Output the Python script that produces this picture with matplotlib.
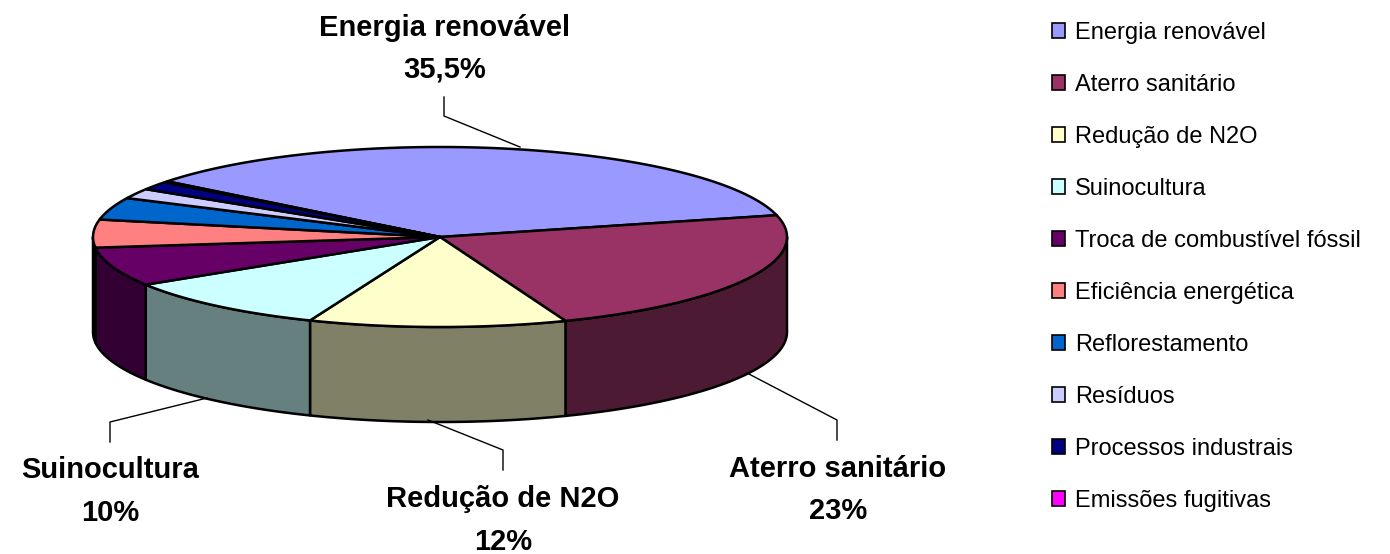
# projetos MDL por tipo de atividade - pizza 3D no estilo do Excel

import numpy as np
import matplotlib.pyplot as plt
from matplotlib.patches import Polygon, Patch
from matplotlib.colors import to_rgb

plt.rcParams['font.family'] = ['Liberation Sans', 'DejaVu Sans']

categorias = ['Energia renovável', 'Aterro sanitário', 'Redução de N2O', 'Suinocultura',
              'Troca de combustível fóssil', 'Eficiência energética', 'Reflorestamento',
              'Resíduos', 'Processos industrais', 'Emissões fugitivas']
valores = [35.5, 23, 12, 10, 7, 5, 4, 1.8, 1.5, 0.2]
cores = ['#9999FF', '#993366', '#FFFFCC', '#CCFFFF', '#660066',
         '#FF8080', '#0066CC', '#CCCCFF', '#000080', '#FF00FF']
rotulos = ['35,5%', '23%', '12%', '10%']

# geometria da pizza (pixels)
cx, cy, rx, ry, prof = 440, 237, 347, 90, 95
inicio = 141.8

fig = plt.figure(figsize=(13.9, 5.54), dpi=100)
ax = fig.add_axes([0, 0, 1, 1])
ax.set_xlim(0, 1390)
ax.set_ylim(554, 0)
ax.axis('off')

fr = np.array(valores) / np.sum(valores)
lim = inicio - np.concatenate([[0], np.cumsum(fr)]) * 360

def arco(a, b, dy=0):
    t = np.radians(np.linspace(a, b, 200))
    return np.column_stack([cx + rx * np.cos(t), cy - ry * np.sin(t) + dy])

# laterais (metade da frente: entre -180 e 0 graus)
for i in range(len(valores)):
    a, b = lim[i], lim[i + 1]
    a2, b2 = min(a, 0), max(b, -180)
    if a2 <= b2:
        continue
    cor = tuple(c * 0.5 for c in to_rgb(cores[i]))
    pts = np.vstack([arco(a2, b2), arco(b2, a2, prof)])
    ax.add_patch(Polygon(pts, closed=True, fc=cor, ec='black', lw=1.8, joinstyle='round'))

# face de cima
for i in range(len(valores)):
    pts = np.vstack([[cx, cy], arco(lim[i], lim[i + 1])])
    ax.add_patch(Polygon(pts, closed=True, fc=cores[i], ec='black', lw=1.8, joinstyle='round'))

# rotulos com linhas de chamada
pos_rot = [(445, 28, 70), (838, 469, 511), (503, 499, 542), (110, 470, 513)]
linhas = [[(444, 97), (444, 116), (520, 147)],
          [(837, 440), (837, 420), (747, 373)],
          [(503, 470), (503, 450), (428, 420)],
          [(110, 442), (110, 422), (207, 398)]]
for k in range(4):
    x, y1, y2 = pos_rot[k]
    ax.text(x, y1, categorias[k], ha='center', va='center', fontsize=21, fontweight='bold')
    ax.text(x, y2, rotulos[k], ha='center', va='center', fontsize=21, fontweight='bold')
    lx, ly = zip(*linhas[k])
    ax.plot(lx, ly, color='black', lw=1)

handles = [Patch(fc=c, ec='black', lw=1.2) for c in cores]
leg = ax.legend(handles, categorias, loc='upper left', bbox_to_anchor=(1052 / 1390, 1 - 22 / 554),
                frameon=False, fontsize=17, handlelength=0.56, handleheight=0.56,
                handletextpad=0.4, labelspacing=1.27, borderpad=0, borderaxespad=0)

plt.savefig('out.png', dpi=100)
